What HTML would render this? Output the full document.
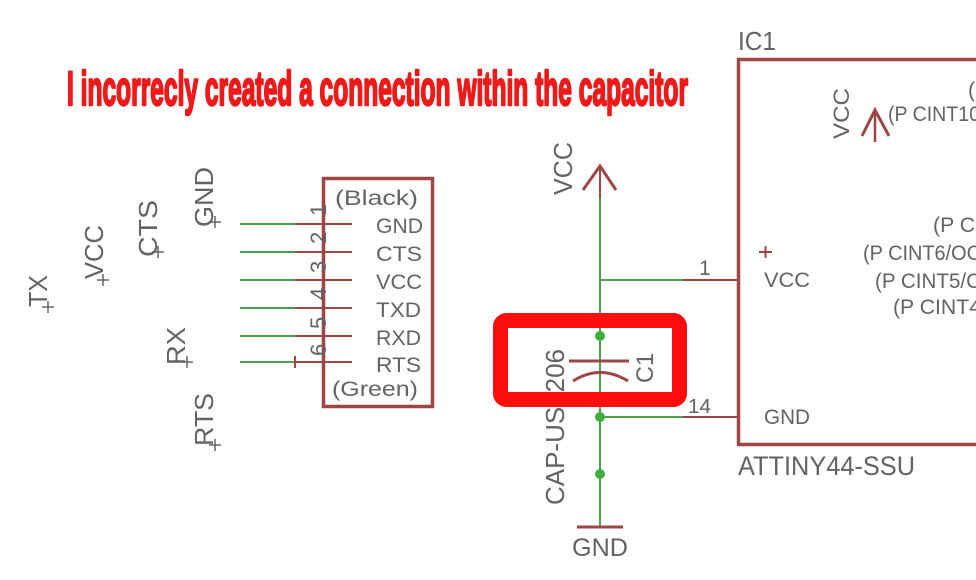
<!DOCTYPE html>
<html><head><meta charset="utf-8"><style>
html,body{margin:0;padding:0;background:#fff;}
svg{display:block;}
text{font-family:"Liberation Sans",Arial,sans-serif;fill:#636363;}
</style></head><body>
<svg width="976" height="580" viewBox="0 0 976 580" xmlns="http://www.w3.org/2000/svg">
<rect width="976" height="580" fill="#fff"/>

<!-- Title -->
<text x="67" y="105" font-size="48" font-weight="bold" textLength="621" lengthAdjust="spacingAndGlyphs" style="fill:#ee1a1a" stroke="#ee1a1a" stroke-width="2.4" stroke-linejoin="round">I incorrecly created a connection within the capacitor</text>

<!-- Left net labels (rotated) -->
<g font-size="26">
  <text transform="translate(47,307) rotate(-90)" textLength="32" lengthAdjust="spacingAndGlyphs">TX</text>
  <text transform="translate(103,279) rotate(-90)" textLength="54" lengthAdjust="spacingAndGlyphs">VCC</text>
  <text transform="translate(157,257) rotate(-90)" textLength="57" lengthAdjust="spacingAndGlyphs">CTS</text>
  <text transform="translate(213,227) rotate(-90)" textLength="60" lengthAdjust="spacingAndGlyphs">GND</text>
  <text transform="translate(185,365) rotate(-90)" textLength="38" lengthAdjust="spacingAndGlyphs">RX</text>
  <text transform="translate(213,446) rotate(-90)" textLength="53" lengthAdjust="spacingAndGlyphs">RTS</text>
</g>
<g stroke="#666" stroke-width="1.5">
  <path d="M42 307h12M48 301v12"/>
  <path d="M97 280h12M103 274v12"/>
  <path d="M152 252h12M158 246v12"/>
  <path d="M209 222h12M215 216v12"/>
  <path d="M181 362h12M187 356v12"/>
  <path d="M209 445h12M215 439v12"/>
</g>

<!-- Connector -->
<g stroke-width="2">
  <g stroke="#4f9f4f">
    <path d="M240 224H295M240 252H295M240 280H295M240 308H295M240 336H295M240 362H295"/>
  </g>
  <g stroke="#9c4646">
    <path d="M295 224H352M295 252H352M295 280H352M295 308H352M295 336H352M295 362H352"/>
    <path d="M295 356v12"/>
  </g>
</g>
<rect x="323.5" y="178.5" width="109" height="228" fill="none" stroke="#9c4646" stroke-width="3.5"/>
<g font-size="21">
  <text x="335" y="205" textLength="83" lengthAdjust="spacingAndGlyphs">(Black)</text>
  <text x="376" y="233" textLength="47" lengthAdjust="spacingAndGlyphs">GND</text>
  <text x="376" y="261" textLength="46" lengthAdjust="spacingAndGlyphs">CTS</text>
  <text x="376" y="289" textLength="46" lengthAdjust="spacingAndGlyphs">VCC</text>
  <text x="376" y="317" textLength="45" lengthAdjust="spacingAndGlyphs">TXD</text>
  <text x="376" y="345" textLength="45" lengthAdjust="spacingAndGlyphs">RXD</text>
  <text x="376" y="372" textLength="45" lengthAdjust="spacingAndGlyphs">RTS</text>
  <text x="332" y="396" textLength="86" lengthAdjust="spacingAndGlyphs">(Green)</text>
</g>
<g font-size="22">
  <text transform="translate(326,216) rotate(-90)">1</text>
  <text transform="translate(326,244) rotate(-90)">2</text>
  <text transform="translate(326,273) rotate(-90)">3</text>
  <text transform="translate(326,300) rotate(-90)">4</text>
  <text transform="translate(326,329) rotate(-90)">5</text>
  <text transform="translate(326,356) rotate(-90)">6</text>
</g>

<!-- Capacitor net -->
<path d="M600 198V527" stroke="#4f9f4f" stroke-width="2"/>
<path d="M600 165V198" stroke="#9c4646" stroke-width="2"/>
<path d="M583 190L600 166L616 190" fill="none" stroke="#9c4646" stroke-width="3"/>
<text transform="translate(572,195) rotate(-90)" font-size="26" textLength="53" lengthAdjust="spacingAndGlyphs">VCC</text>

<path d="M600 280H683" stroke="#4f9f4f" stroke-width="2"/>
<path d="M683 280H737" stroke="#9c4646" stroke-width="2"/>
<text x="699" y="275" font-size="21">1</text>

<path d="M600 417H683" stroke="#4f9f4f" stroke-width="2"/>
<path d="M683 417H737" stroke="#9c4646" stroke-width="2"/>
<text x="688" y="413" font-size="20" textLength="23" lengthAdjust="spacingAndGlyphs">14</text>

<!-- capacitor plates -->
<path d="M569 361H629" stroke="#9c4646" stroke-width="3"/>
<path d="M573 381Q600 364 628 381" fill="none" stroke="#9c4646" stroke-width="3"/>
<text transform="translate(653,383) rotate(-90)" font-size="24" textLength="30" lengthAdjust="spacingAndGlyphs">C1</text>
<text transform="translate(564,505) rotate(-90)" font-size="26" textLength="156" lengthAdjust="spacingAndGlyphs">CAP-US1206</text>

<!-- Red highlight box -->
<rect x="500.5" y="320.5" width="179" height="79" rx="6" fill="none" stroke="#ff0c0c" stroke-width="15"/>

<!-- junction dots -->
<g fill="#3fae3f">
  <circle cx="600" cy="336" r="5"/>
  <circle cx="600" cy="417" r="5"/>
  <circle cx="600" cy="474" r="5"/>
</g>

<!-- Ground -->
<path d="M577 527H623" stroke="#9c4646" stroke-width="3"/>
<text x="572" y="556" font-size="25" textLength="56" lengthAdjust="spacingAndGlyphs">GND</text>

<!-- IC1 -->
<path d="M738.5 445V59.5H980" fill="none" stroke="#9c4646" stroke-width="3.5"/>
<path d="M737 444.5H980" fill="none" stroke="#9c4646" stroke-width="3.5"/>
<text x="738" y="50" font-size="26" textLength="38" lengthAdjust="spacingAndGlyphs">IC1</text>
<text x="738" y="475" font-size="27" textLength="177" lengthAdjust="spacingAndGlyphs">ATTINY44-SSU</text>

<text transform="translate(849,139) rotate(-90)" font-size="22" textLength="51" lengthAdjust="spacingAndGlyphs">VCC</text>
<path d="M875 110V142" stroke="#9c4646" stroke-width="2.5"/>
<path d="M862 136L875 110L889 136" fill="none" stroke="#9c4646" stroke-width="3"/>

<g font-size="21">
  <text x="968" y="97">(</text>
  <text x="888" y="121" textLength="92" lengthAdjust="spacingAndGlyphs">(P CINT10</text>
  <text x="933" y="232" textLength="48" lengthAdjust="spacingAndGlyphs">(P CI</text>
  <text x="863" y="260" textLength="118" lengthAdjust="spacingAndGlyphs">(P CINT6/OC</text>
  <text x="875" y="288" textLength="106" lengthAdjust="spacingAndGlyphs">(P CINT5/C</text>
  <text x="893" y="314" textLength="88" lengthAdjust="spacingAndGlyphs">(P CINT4</text>
  <text x="764" y="287" textLength="46" lengthAdjust="spacingAndGlyphs">VCC</text>
  <text x="764" y="424" textLength="46" lengthAdjust="spacingAndGlyphs">GND</text>
</g>
<path d="M759 252H772M765.5 246V258" stroke="#9c4646" stroke-width="2"/>
</svg>
</body></html>
